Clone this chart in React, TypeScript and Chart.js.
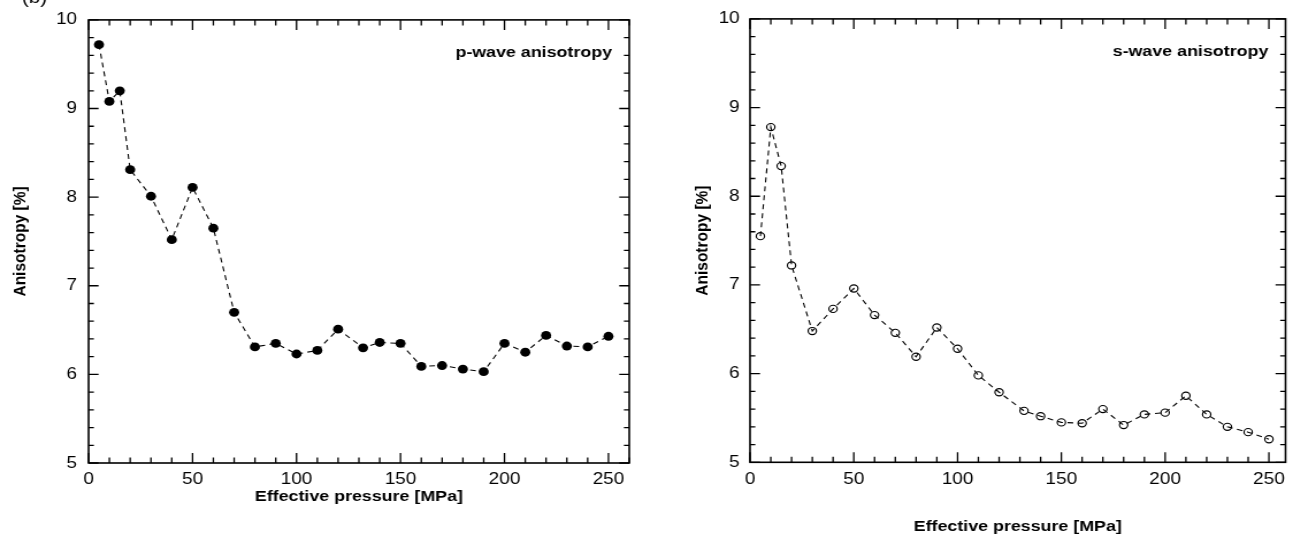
import React, { useEffect, useRef } from 'react';
import { Chart, registerables } from 'chart.js';

Chart.register(...registerables);

// ---------- data ----------
const pressures = [5, 10, 15, 20, 30, 40, 50, 60, 70, 80, 90, 100, 110, 120, 132, 140, 150, 160, 170, 180, 190, 200, 210, 220, 230, 240, 250];
const pWaveAnisotropy = [9.72, 9.08, 9.20, 8.31, 8.01, 7.52, 8.11, 7.65, 6.70, 6.31, 6.35, 6.23, 6.27, 6.51, 6.30, 6.36, 6.35, 6.09, 6.10, 6.06, 6.03, 6.35, 6.25, 6.44, 6.32, 6.31, 6.43];
const sWaveAnisotropy = [7.55, 8.78, 8.34, 7.22, 6.48, 6.73, 6.96, 6.66, 6.46, 6.19, 6.52, 6.28, 5.98, 5.79, 5.58, 5.52, 5.45, 5.44, 5.60, 5.42, 5.54, 5.56, 5.75, 5.54, 5.40, 5.34, 5.26];
const xMajorStep = 50;
const xMinorStep = 10;
const yMajorStep = 1;
const yMinorStep = 0.2;
const xTitle = 'Effective pressure [MPa]';
const yTitle = 'Anisotropy [%]';
const pLabel = 'p-wave anisotropy';
const sLabel = 's-wave anisotropy';
const panelLabel = '(b)';

// ---------- layout ----------
const W = 1124;
const H = 541;
const STRETCH = 1293 / W;
const FONT = "'Liberation Sans', Arial, Helvetica, sans-serif";

const framePlugin = {
  id: 'frame',
  beforeDatasetsDraw(chart: any) {
    const { ctx, chartArea: a, scales } = chart;
    const x = scales.x;
    const y = scales.y;
    ctx.save();
    ctx.strokeStyle = '#000';
    ctx.lineWidth = 1.3;
    ctx.beginPath();
    const nY = Math.round((y.max - y.min) / yMinorStep);
    const perMajorY = Math.round(yMajorStep / yMinorStep);
    for (let i = 0; i <= nY; i++) {
      const v = y.min + i * yMinorStep;
      const py = y.getPixelForValue(v);
      const len = (i % perMajorY === 0 ? 10 : 5.3) / STRETCH;
      ctx.moveTo(a.left, py);
      ctx.lineTo(a.left + len, py);
      ctx.moveTo(a.right, py);
      ctx.lineTo(a.right - len, py);
    }
    for (let v = x.min; v <= x.max + 1e-9; v += xMinorStep) {
      const px = x.getPixelForValue(v);
      const len = v % xMajorStep === 0 ? 10 : 5.5;
      ctx.moveTo(px, a.bottom);
      ctx.lineTo(px, a.bottom - len);
      ctx.moveTo(px, a.top);
      ctx.lineTo(px, a.top + len);
    }
    ctx.stroke();
    ctx.lineWidth = 1.6;
    ctx.strokeRect(a.left, a.top, a.right - a.left, a.bottom - a.top);
    ctx.restore();
  },
  afterDatasetsDraw(chart: any, _args: any, opts: any) {
    const { ctx, chartArea: a } = chart;
    ctx.save();
    ctx.fillStyle = '#000';
    ctx.font = `bold 15.5px ${FONT}`;
    ctx.textAlign = 'right';
    ctx.textBaseline = 'alphabetic';
    ctx.fillText(opts.label, a.right - 15, a.top + 37);
    if (opts.panel) {
      ctx.font = `18px ${FONT}`;
      ctx.textAlign = 'left';
      ctx.fillText(opts.panel, 19, 3);
    }
    ctx.restore();
  },
};

type PanelCfg = {
  values: number[];
  filled: boolean;
  xMax: number;
  pad: { left: number; right: number };
  yWidth: number;
  xHeight: number;
  xTitlePadBottom: number;
  yTitlePadTop: number;
  yTickPad: number;
  label: string;
  panel?: string;
};

function makeConfig(c: PanelCfg): any {
  return {
    type: 'line',
    data: {
      datasets: [
        {
          data: pressures.map((p, i) => ({ x: p, y: c.values[i] })),
          borderColor: '#000',
          borderWidth: 1.1,
          borderDash: [5, 4],
          tension: 0,
          fill: false,
          pointRadius: c.filled ? 4.4 : 3.6,
          pointBackgroundColor: c.filled ? '#000' : 'rgba(0,0,0,0)',
          pointBorderColor: '#000',
          pointBorderWidth: c.filled ? 0 : 1.15,
        },
      ],
    },
    options: {
      responsive: false,
      maintainAspectRatio: false,
      animation: false,
      devicePixelRatio: 1,
      events: [],
      layout: { padding: { left: c.pad.left, right: c.pad.right, top: 16, bottom: 0 } },
      plugins: {
        legend: { display: false },
        tooltip: { enabled: false },
        frame: { label: c.label, panel: c.panel },
      },
      scales: {
        x: {
          type: 'linear',
          min: 0,
          max: c.xMax,
          afterFit: (s: any) => {
            s.height = c.xHeight;
          },
          grid: { display: false, drawTicks: false },
          border: { display: false },
          ticks: {
            stepSize: xMajorStep,
            autoSkip: false,
            maxRotation: 0,
            includeBounds: false,
            padding: 7,
            color: '#000',
            font: { family: FONT, size: 16.5 },
            callback: (v: any) => (Number(v) % xMajorStep === 0 ? String(v) : ''),
          },
          title: {
            display: true,
            text: xTitle,
            color: '#000',
            font: { family: FONT, size: 15.5, weight: 'bold' },
            padding: { top: 0, bottom: c.xTitlePadBottom },
          },
        },
        y: {
          type: 'linear',
          min: 5,
          max: 10,
          afterFit: (s: any) => {
            s.width = c.yWidth;
          },
          grid: { display: false, drawTicks: false },
          border: { display: false },
          ticks: {
            stepSize: yMajorStep,
            padding: c.yTickPad,
            color: '#000',
            font: { family: FONT, size: 16.5 },
          },
          title: {
            display: true,
            text: yTitle,
            color: '#000',
            font: { family: FONT, size: 15.5, weight: 'bold' },
            padding: { top: c.yTitlePadTop, bottom: 0 },
          },
        },
      },
    },
    plugins: [framePlugin],
  };
}

function Panel({ cfg }: { cfg: PanelCfg }) {
  const ref = useRef<HTMLCanvasElement>(null);
  useEffect(() => {
    if (!ref.current) return;
    const chart = new Chart(ref.current, makeConfig(cfg));
    return () => chart.destroy();
  }, [cfg]);
  return (
    <canvas
      ref={ref}
      width={W}
      height={H}
      style={{ position: 'absolute', left: 0, top: 0, width: '1293px', height: '541px' }}
    />
  );
}

const leftCfg: PanelCfg = {
  values: pWaveAnisotropy,
  filled: true,
  xMax: 260,
  pad: { left: 0, right: 577 },
  yWidth: 77,
  xHeight: 78,
  xTitlePadBottom: 34.7,
  yTitlePadTop: 8.1,
  yTickPad: 10,
  label: pLabel,
  panel: panelLabel,
};

const rightCfg: PanelCfg = {
  values: sWaveAnisotropy,
  filled: false,
  xMax: 258,
  pad: { left: 600, right: 5.5 },
  yWidth: 52,
  xHeight: 78.7,
  xTitlePadBottom: 4.7,
  yTitlePadTop: 1.8,
  yTickPad: 9,
  label: sLabel,
};

export default function App() {
  return (
    <div
      style={{
        position: 'fixed',
        left: 0,
        top: 0,
        width: '1293px',
        height: '541px',
        background: '#fff',
        overflow: 'hidden',
      }}
    >
      <Panel cfg={leftCfg} />
      <Panel cfg={rightCfg} />
    </div>
  );
}
